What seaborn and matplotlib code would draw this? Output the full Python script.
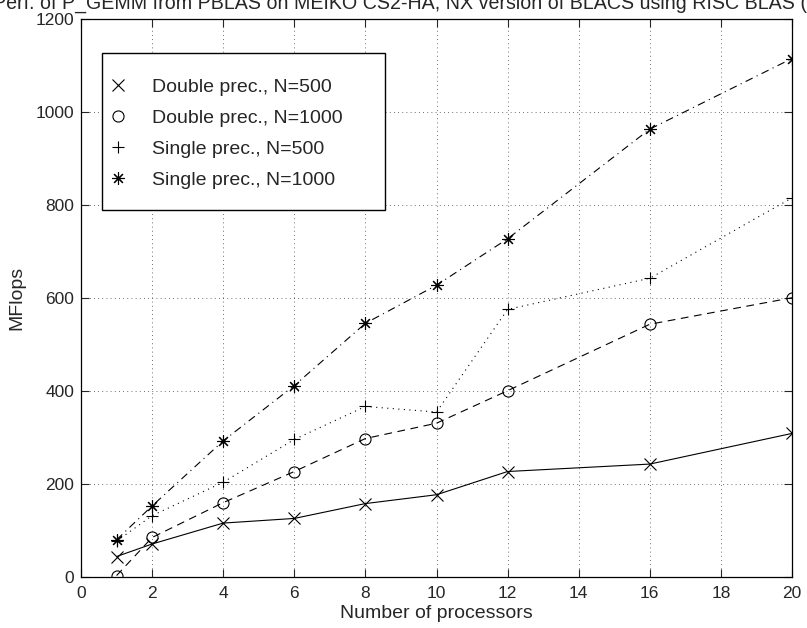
import numpy as np
import pandas as pd
import matplotlib
matplotlib.use('Agg')
import matplotlib.pyplot as plt
from matplotlib.lines import Line2D
from matplotlib.patches import Rectangle
import seaborn as sns

# processors
procs = [1, 2, 4, 6, 8, 10, 12, 16, 20]

# MFlops per configuration
double_500 = [43, 70, 115, 125, 157, 176, 226, 242, 308]
double_1000 = [2, 84, 159, 226, 297, 330, 400, 543, 600]
single_500 = [76, 131, 203, 295, 366, 354, 575, 642, 815]
single_1000 = [79, 152, 292, 411, 545, 627, 727, 963, 1115]

labels = ['Double prec., N=500', 'Double prec., N=1000',
          'Single prec., N=500', 'Single prec., N=1000']
series = [double_500, double_1000, single_500, single_1000]

title = 'Perf. of P_GEMM from PBLAS on MEIKO CS2-HA, NX version of BLACS using RISC BLAS (SPARC)'

df = pd.concat([pd.DataFrame({'procs': procs, 'mflops': s, 'case': l})
                for s, l in zip(series, labels)], ignore_index=True)

sns.set_style('ticks')
plt.rcParams['font.family'] = ['Liberation Sans', 'DejaVu Sans']
plt.rcParams['font.size'] = 14

fig = plt.figure(figsize=(8.07, 6.28), dpi=100)
ax = fig.add_axes([0.1004, 0.0820, 0.8810, 0.8877])

styles = {
    labels[0]: dict(ls='-', marker='x', ms=8),
    labels[1]: dict(ls=(0, (7, 5)), marker='o', ms=8),
    labels[2]: dict(ls=(0, (1, 4)), marker='+', ms=9),
    labels[3]: dict(ls=(0, (7, 4, 1, 4)), marker=(8, 2, 0), ms=9),
}
for l in labels:
    st = styles[l]
    sns.lineplot(data=df[df['case'] == l], x='procs', y='mflops', ax=ax,
                 color='black', lw=0.8, linestyle=st['ls'], marker=st['marker'],
                 markersize=st['ms'], markerfacecolor='none',
                 markeredgecolor='black', markeredgewidth=0.8, legend=False)

ax.set_xlim(0, 20)
ax.set_ylim(0, 1200)
ax.set_xticks(range(0, 21, 2))
ax.set_yticks(range(0, 1201, 200))
ax.set_xlabel('Number of processors', fontsize=14, labelpad=3)
ax.set_ylabel('MFlops', fontsize=14, labelpad=7)
ax.set_title(title, fontsize=14.1, pad=7.5)
ax.grid(True, linestyle=(0, (1, 4)), color='black', lw=0.6, alpha=0.75)
ax.tick_params(direction='in', top=True, right=True, length=6, width=0.8,
               labelsize=12.5, pad=7)
ax.tick_params(axis='y', pad=5)
for sp in ax.spines.values():
    sp.set_visible(True)
    sp.set_linewidth(0.9)
    sp.set_color('black')

handles = [Line2D([], [], ls='none', color='black', marker=styles[l]['marker'],
                  markersize=styles[l]['ms'], markerfacecolor='none',
                  markeredgewidth=0.8) for l in labels]
ax.add_patch(Rectangle((0.0295, 0.6574), 0.398, 0.2816, transform=ax.transAxes,
                       facecolor='white', edgecolor='black', lw=1.0, zorder=4))
leg = ax.legend(handles, labels, loc='upper left',
                bbox_to_anchor=((110 - 81) / 711, 0.8942),
                frameon=False, labelspacing=0.7, handletextpad=1.3,
                handlelength=0.85, borderpad=0, borderaxespad=0, fontsize=14)
leg.set_zorder(5)

fig.savefig('out.png', dpi=100)
